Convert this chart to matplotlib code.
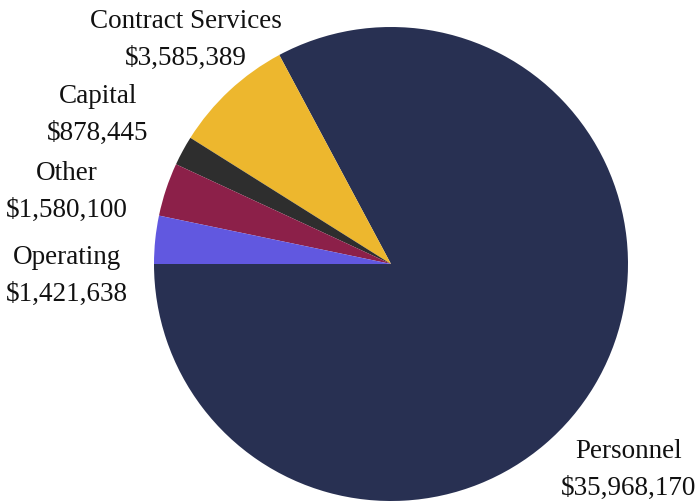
import matplotlib.pyplot as plt

categories = ["Personnel", "Contract Services", "Capital", "Other", "Operating"]
amounts = [35968170, 3585389, 878445, 1580100, 1421638]
colors = ["#283052", "#EDB72E", "#2E2E2E", "#8C2049", "#6158E0"]

# label anchor points (pixel coords of the text centre)
label_pos = {
    "Personnel": (629, 470),
    "Contract Services": (186, 40),
    "Capital": (98, 115),
    "Other": (67, 192),
    "Operating": (67, 276),
}

W, H = 699, 503
cx, cy, r = 391, 264, 237

plt.rcParams["font.family"] = ["Liberation Serif", "DejaVu Serif"]

fig = plt.figure(figsize=(W / 100, H / 100), dpi=100)
ax = fig.add_axes([0, 0, 1, 1])
ax.pie(
    amounts,
    colors=colors,
    startangle=180,
    counterclock=True,
    radius=1,
    center=(0, 0),
    wedgeprops={"linewidth": 0},
)
ax.set_xlim(-cx / r, (W - cx) / r)
ax.set_ylim(-(H - cy) / r, cy / r)
ax.set_aspect("auto")
ax.axis("off")

for name, value in zip(categories, amounts):
    px, py = label_pos[name]
    ax.text(
        (px - cx) / r,
        (cy - py) / r,
        f"{name}\n${value:,.0f}",
        ha="center",
        va="center",
        fontsize=19.5,
        linespacing=1.6,
        color="#111111",
    )

fig.savefig("out.png", dpi=100)
